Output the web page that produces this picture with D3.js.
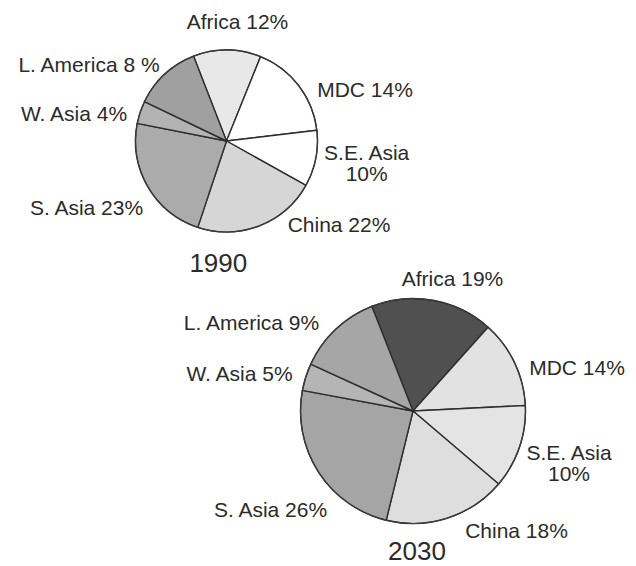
<!DOCTYPE html>
<html>
<head>
<meta charset="utf-8">
<script src="https://cdn.jsdelivr.net/npm/d3@7"></script>
<style>
  html, body { margin: 0; padding: 0; background: #ffffff; }
  svg { display: block; }
  text { font-family: "Liberation Sans", Arial, Helvetica, sans-serif; fill: #2b2b2b; }
</style>
</head>
<body>
<svg id="chart" width="636" height="566"></svg>
<script>
// Regions, clockwise from the top
const regions = ["Africa", "MDC", "S.E. Asia", "China", "S. Asia", "W. Asia", "L. America"];

// Printed labels (percent shares as written on the chart)
const labels1990 = ["Africa 12%", "MDC 14%", "S.E. Asia|10%", "China 22%", "S. Asia 23%", "W. Asia 4%", "L. America 8 %"];
const labels2030 = ["Africa 19%", "MDC 14%", "S.E. Asia|10%", "China 18%", "S. Asia 26%", "W. Asia 5%", "L. America 9%"];

// Slice sizes as drawn in the picture (percent of the circle)
const slices1990 = [12, 17, 10, 22, 23, 4, 12];
const slices2030 = [17.6, 12.6, 12, 17.6, 24.1, 3.9, 12.2];

// Fill shades per region
const fills1990 = ["#e8e8e8", "#ffffff", "#ffffff", "#d6d6d6", "#ababab", "#b3b3b3", "#a0a0a0"];
const fills2030 = ["#505050", "#e2e2e2", "#e4e4e4", "#dedede", "#a5a5a5", "#b5b5b5", "#a6a6a6"];

const years = ["1990", "2030"];

const svg = d3.select("#chart");

const pies = [
  {
    year: years[0], values: slices1990, labels: labels1990, fills: fills1990,
    cx: 226.5, cy: 141, r: 91, start: -21.2,
    labelPos: [[237.5, 28.5], [365, 96.5], [366.7, 160], [339, 231.5], [86.5, 214.5], [74, 120.5], [89, 71.5]],
    yearPos: [218.3, 271.5]
  },
  {
    year: years[1], values: slices2030, labels: labels2030, fills: fills2030,
    cx: 413, cy: 411, r: 112.5, start: -21.5,
    labelPos: [[452.5, 286], [577, 375], [569, 460], [516.5, 538], [270.5, 517], [239.5, 381], [251.5, 330]],
    yearPos: [417, 560]
  }
];

pies.forEach(p => {
  const startRad = p.start * Math.PI / 180;
  const pie = d3.pie().sort(null).value(d => d)
    .startAngle(startRad).endAngle(startRad + 2 * Math.PI);
  const arc = d3.arc().innerRadius(0).outerRadius(p.r);
  const g = svg.append("g").attr("transform", `translate(${p.cx},${p.cy})`);

  g.selectAll("path.slice")
    .data(pie(p.values))
    .join("path")
    .attr("class", "slice")
    .attr("d", arc)
    .attr("fill", (d, i) => p.fills[i])
    .attr("stroke", "#2e2e2e")
    .attr("stroke-width", 1.4)
    .attr("stroke-linejoin", "round");

  g.append("circle")
    .attr("r", p.r)
    .attr("fill", "none")
    .attr("stroke", "#3a3a3a")
    .attr("stroke-width", 1.2);

  // labels
  p.labels.forEach((lab, i) => {
    const [x, y] = p.labelPos[i];
    const parts = lab.split("|");
    const t = svg.append("text")
      .attr("x", x).attr("y", y)
      .attr("text-anchor", "middle")
      .attr("font-size", 21);
    if (parts.length === 1) {
      t.text(lab);
    } else {
      t.append("tspan").attr("x", x).attr("y", y).text(parts[0]);
      t.append("tspan").attr("x", x).attr("y", y + 21).text(parts[1]);
    }
  });

  svg.append("text")
    .attr("x", p.yearPos[0]).attr("y", p.yearPos[1])
    .attr("text-anchor", "middle")
    .attr("font-size", 26)
    .text(p.year);
});
</script>
</body>
</html>
